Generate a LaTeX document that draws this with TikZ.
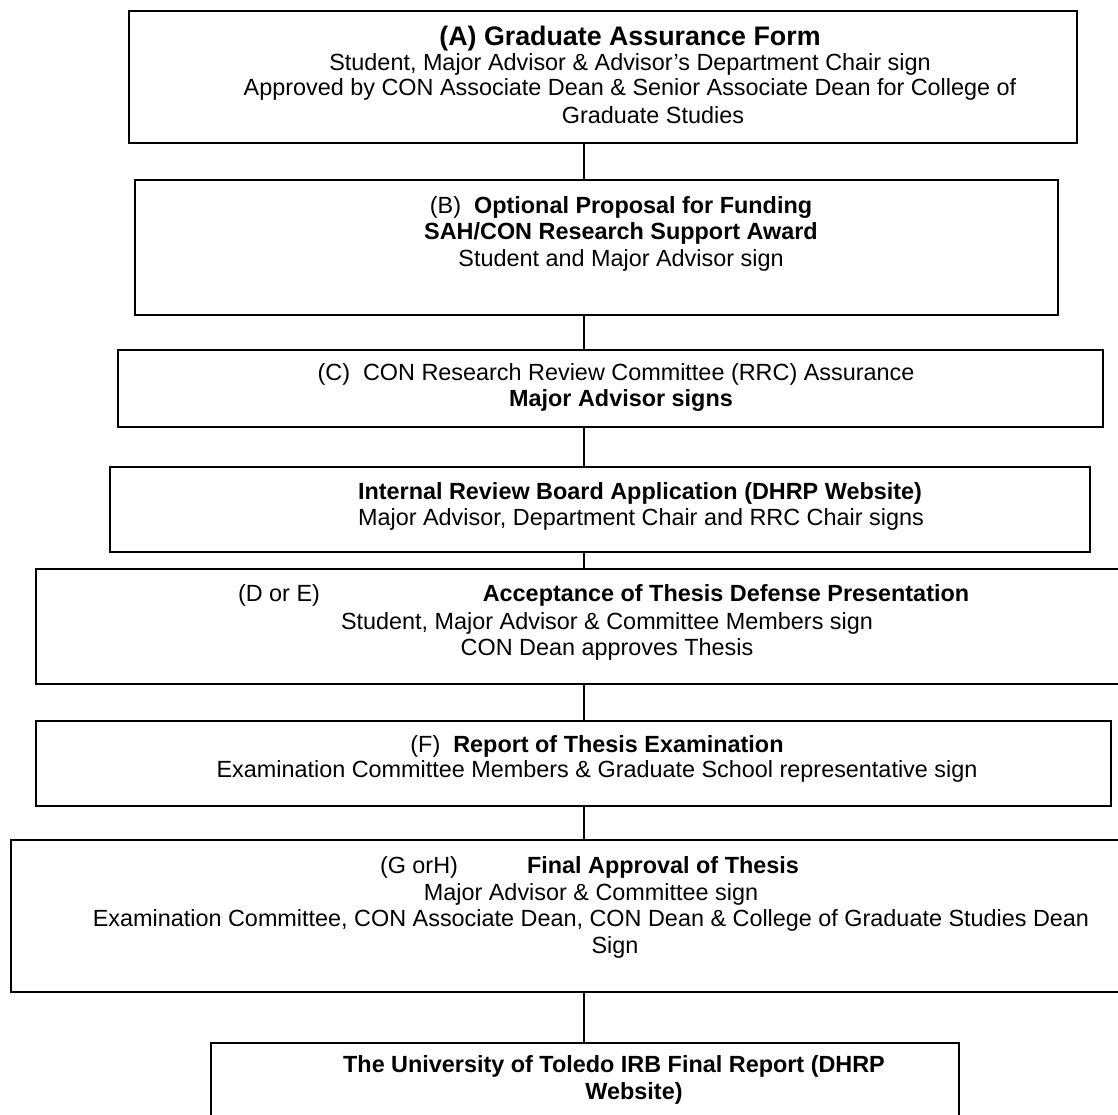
\documentclass[tikz,border=0pt]{standalone}
\usepackage{fontspec}
\setmainfont{Liberation Sans}
\begin{document}
\begin{tikzpicture}[x=1pt,y=1pt,
  box/.style={draw=black, line width=1.8pt, rectangle, inner sep=0pt},
  conn/.style={draw=black, line width=1.4pt},
  txt/.style={inner sep=0pt, anchor=mid, font=\fontsize{23.4}{27}\selectfont},
  ttl/.style={inner sep=0pt, anchor=mid, font=\fontsize{26.8}{31}\selectfont\bfseries}]
\useasboundingbox (0,0) rectangle (1118,-1114);
\clip (0,0) rectangle (1118,-1114);
\coordinate (spine) at (584,0);
% boxes
\node[box, minimum width=948, minimum height=132] (A) at (603,-77) {};
\node[box, minimum width=923, minimum height=135] (B) at (596.5,-247.5) {};
\node[box, minimum width=985, minimum height=77] (C) at (610.5,-388.5) {};
\node[box, minimum width=980, minimum height=85] (I) at (600,-509.5) {};
\node[box, minimum width=1094, minimum height=115] (DE) at (583,-626.5) {};
\node[box, minimum width=1075, minimum height=85] (F) at (573.5,-763.5) {};
\node[box, minimum width=1119, minimum height=152] (GH) at (570.5,-916) {};
\node[box, minimum width=748, minimum height=87] (Z) at (585,-1086.5) {};
% texts
\node[ttl] (A1) at (630,-43) {(A) Graduate Assurance Form};
\node[txt] (A2) at (630,-68) {Student, Major Advisor \& Advisor’s Department Chair sign};
\node[txt] (A3) at (630,-93) {Approved by CON Associate Dean \& Senior Associate Dean for College of};
\node[txt] (A4) at (653,-121) {Graduate Studies};
\node[txt] (B1) at (621,-211) {(B)\ \ \textbf{Optional Proposal for Funding}};
\node[txt] (B2) at (621,-237) {\textbf{SAH/CON Research Support Award}};
\node[txt] (B3) at (621,-264) {Student and Major Advisor sign};
\node[txt] (C1) at (616,-378) {(C)\ \ CON Research Review Committee (RRC) Assurance};
\node[txt] (C2) at (621,-404) {\textbf{Major Advisor signs}};
\node[txt] (I1) at (640,-497) {\textbf{Internal Review Board Application (DHRP Website)}};
\node[txt] (I2) at (641,-523) {Major Advisor, Department Chair and RRC Chair signs};
\node[txt] (DE1a) at (279,-599) {(D or E)};
\node[txt] (DE1b) at (726,-599) {\textbf{Acceptance of Thesis Defense Presentation}};
\node[txt] (DE2) at (607,-627) {Student, Major Advisor \& Committee Members sign};
\node[txt] (DE3) at (607,-653) {CON Dean approves Thesis};
\node[txt] (F1) at (597,-750) {(F)\ \ \textbf{Report of Thesis Examination}};
\node[txt] (F2) at (597,-775) {Examination Committee Members \& Graduate School representative sign};
\node[txt] (GH1a) at (419,-871) {(G orH)};
\node[txt] (GH1b) at (663,-871) {\textbf{Final Approval of Thesis}};
\node[txt] (GH2) at (591,-898) {Major Advisor \& Committee sign};
\node[txt] (GH3) at (591,-924) {Examination Committee, CON Associate Dean, CON Dean \& College of Graduate Studies Dean};
\node[txt] (GH4) at (615,-951) {Sign};
\node[txt] (Z1) at (614,-1070) {\textbf{The University of Toledo IRB Final Report (DHRP}};
\node[txt] (Z2) at (634,-1097) {\textbf{Website)}};
% connectors
\draw[conn] (A.south -| spine) -- (B.north -| spine);
\draw[conn] (B.south -| spine) -- (C.north -| spine);
\draw[conn] (C.south -| spine) -- (I.north -| spine);
\draw[conn] (I.south -| spine) -- (DE.north -| spine);
\draw[conn] (DE.south -| spine) -- (F.north -| spine);
\draw[conn] (F.south -| spine) -- (GH.north -| spine);
\draw[conn] (GH.south -| spine) -- (Z.north -| spine);
\end{tikzpicture}
\end{document}
